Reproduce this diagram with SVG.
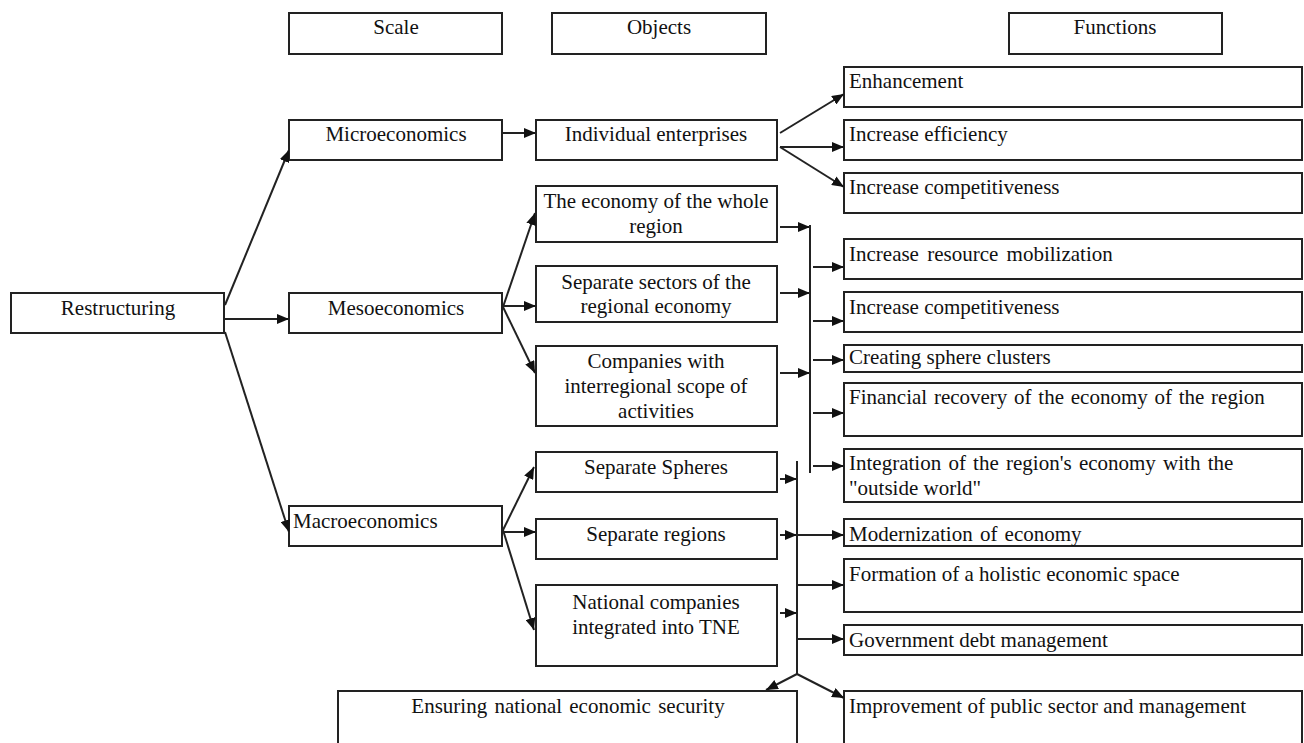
<svg xmlns="http://www.w3.org/2000/svg" width="1304" height="743" viewBox="0 0 1304 743">
  <defs>
    <marker id="arrow" viewBox="0 0 12 10" refX="12" refY="5" markerWidth="12" markerHeight="10" markerUnits="userSpaceOnUse" orient="auto">
      <path d="M0,0 L12,5 L0,10 Z" fill="#111"/>
    </marker>
    <style>
      .box { fill: #fff; stroke: #222; stroke-width: 2; }
      .t { font-family: "Liberation Serif", "Times New Roman", serif; font-size: 21px; fill: #111; }
      .c { text-anchor: middle; }
      .ln { fill: none; stroke: #222; stroke-width: 2; }
      .ar { fill: none; stroke: #222; stroke-width: 2; marker-end: url(#arrow); }
    </style>
  </defs>
  <rect width="1304" height="743" fill="#fff"/>

  <!-- column headers -->
  <g id="hdr-scale"><rect class="box" x="289" y="13" width="213" height="41"/><text class="t c" x="396" y="34">Scale</text></g>
  <g id="hdr-objects"><rect class="box" x="552" y="13" width="214" height="41"/><text class="t c" x="659" y="34">Objects</text></g>
  <g id="hdr-functions"><rect class="box" x="1009" y="13" width="213" height="41"/><text class="t c" x="1115" y="34">Functions</text></g>

  <!-- scale level -->
  <g id="restructuring"><rect class="box" x="11" y="293" width="213" height="40"/><text class="t c" x="118" y="315">Restructuring</text></g>
  <g id="micro"><rect class="box" x="289" y="120" width="213" height="40"/><text class="t c" x="396" y="141">Microeconomics</text></g>
  <g id="meso"><rect class="box" x="289" y="293" width="213" height="40"/><text class="t c" x="396" y="315">Mesoeconomics</text></g>
  <g id="macro"><rect class="box" x="289" y="506" width="213" height="40"/><text class="t" x="293" y="528">Macroeconomics</text></g>

  <!-- objects -->
  <g id="obj-enterprises"><rect class="box" x="536" y="120" width="241" height="40"/><text class="t c" x="656" y="141">Individual enterprises</text></g>
  <g id="obj-whole-region"><rect class="box" x="536" y="186" width="241" height="56"/><text class="t c" x="656" y="208">The economy of the whole</text><text class="t c" x="656" y="233">region</text></g>
  <g id="obj-sectors"><rect class="box" x="536" y="266" width="241" height="56"/><text class="t c" x="656" y="289">Separate sectors of the</text><text class="t c" x="656" y="313">regional economy</text></g>
  <g id="obj-interregional"><rect class="box" x="536" y="346" width="241" height="80"/><text class="t c" x="656" y="368">Companies with</text><text class="t c" x="656" y="393">interregional scope of</text><text class="t c" x="656" y="418">activities</text></g>
  <g id="obj-spheres"><rect class="box" x="536" y="452" width="241" height="40"/><text class="t c" x="656" y="474">Separate Spheres</text></g>
  <g id="obj-regions"><rect class="box" x="536" y="519" width="241" height="40"/><text class="t c" x="656" y="541">Separate regions</text></g>
  <g id="obj-national"><rect class="box" x="536" y="585" width="241" height="81"/><text class="t c" x="656" y="609">National companies</text><text class="t c" x="656" y="634">integrated into TNE</text></g>
  <g id="security"><rect class="box" x="338" y="691" width="459" height="60"/><text class="t c" x="568" y="713" word-spacing="2">Ensuring national economic security</text></g>

  <!-- functions -->
  <g id="f-enhancement"><rect class="box" x="844" y="67" width="458" height="40"/><text class="t" x="849" y="88">Enhancement</text></g>
  <g id="f-efficiency"><rect class="box" x="844" y="120" width="458" height="40"/><text class="t" x="849" y="141">Increase efficiency</text></g>
  <g id="f-competitiveness-1"><rect class="box" x="844" y="173" width="458" height="40"/><text class="t" x="849" y="194">Increase competitiveness</text></g>
  <g id="f-mobilization"><rect class="box" x="844" y="239" width="458" height="40"/><text class="t" x="849" y="261" word-spacing="3">Increase resource mobilization</text></g>
  <g id="f-competitiveness-2"><rect class="box" x="844" y="292" width="458" height="40"/><text class="t" x="849" y="314">Increase competitiveness</text></g>
  <g id="f-clusters"><rect class="box" x="844" y="345" width="458" height="27"/><text class="t" x="849" y="364">Creating sphere clusters</text></g>
  <g id="f-recovery"><rect class="box" x="844" y="383" width="458" height="53"/><text class="t" x="849" y="404" word-spacing="1.5">Financial recovery of the economy of the region</text></g>
  <g id="f-integration"><rect class="box" x="844" y="449" width="458" height="53"/><text class="t" x="849" y="470" word-spacing="2">Integration of the region's economy with the</text><text class="t" x="849" y="495">"outside world"</text></g>
  <g id="f-modernization"><rect class="box" x="844" y="519" width="458" height="27"/><text class="t" x="849" y="541" word-spacing="2">Modernization of economy</text></g>
  <g id="f-holistic"><rect class="box" x="844" y="559" width="458" height="53"/><text class="t" x="849" y="581">Formation of a holistic economic space</text></g>
  <g id="f-debt"><rect class="box" x="844" y="625" width="458" height="30"/><text class="t" x="849" y="647">Government debt management</text></g>
  <g id="f-public"><rect class="box" x="844" y="691" width="458" height="60"/><text class="t" x="849" y="713">Improvement of public sector and management</text></g>

  <!-- connectors -->
  <g id="connectors">
    <path class="ar" d="M225,305 L289,150"/>
    <path class="ar" d="M225,319 L289,319"/>
    <path class="ar" d="M225,332 L289,532"/>
    <path class="ar" d="M502,133 L536,133"/>
    <path class="ar" d="M503,307 L535,213"/>
    <path class="ar" d="M503,306 L536,306"/>
    <path class="ar" d="M503,307 L535,373"/>
    <path class="ar" d="M780,133 L844,94"/>
    <path class="ar" d="M780,147 L844,147"/>
    <path class="ar" d="M780,147 L844,187"/>
    <path class="ar" d="M780,227 L810,227"/>
    <path class="ar" d="M780,293 L810,293"/>
    <path class="ar" d="M780,373 L810,373"/>
    <path class="ln" d="M810,225 L810,473"/>
    <path class="ar" d="M813,267 L844,267"/>
    <path class="ar" d="M813,321 L844,321"/>
    <path class="ar" d="M813,360 L844,360"/>
    <path class="ar" d="M813,413 L844,413"/>
    <path class="ar" d="M813,466 L844,466"/>
    <path class="ar" d="M503,530 L534,467"/>
    <path class="ar" d="M503,532 L536,532"/>
    <path class="ar" d="M503,530 L534,630"/>
    <path class="ar" d="M780,479 L797,479"/>
    <path class="ar" d="M780,535 L797,535"/>
    <path class="ar" d="M780,613 L797,613"/>
    <path class="ln" d="M797,461 L797,674"/>
    <path class="ar" d="M797,535 L844,535"/>
    <path class="ar" d="M797,585 L844,585"/>
    <path class="ar" d="M797,639 L844,639"/>
    <path class="ar" d="M797,674 L766,690"/>
    <path class="ar" d="M797,674 L844,698"/>
  </g>
</svg>
